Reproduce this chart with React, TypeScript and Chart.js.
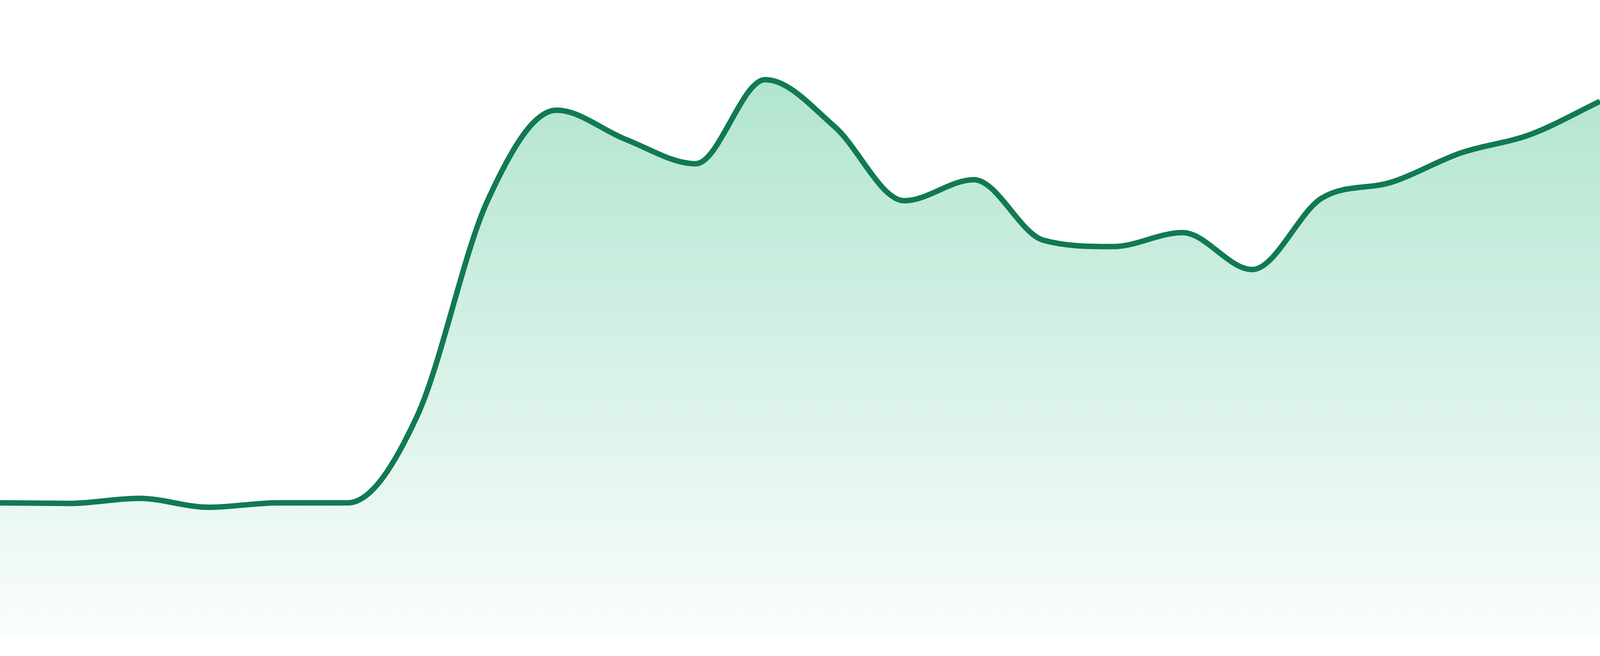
import { useEffect, useRef } from 'react';
import { Chart, registerables } from 'chart.js';

Chart.register(...registerables);

// 24 evenly spaced samples, left edge to right edge
const labels = Array.from({ length: 24 }, (_, i) => `P${i + 1}`);

const values = [
  21.1, 21.0, 21.8, 20.4, 21.1, 21.1, 34.8, 68.3,
  82.7, 78.1, 74.3, 87.5, 80.1, 68.5, 71.8, 62.3,
  61.3, 63.5, 57.7, 68.9, 71.4, 76.0, 78.9, 84.1,
];

const yMin = 0;
const yMax = 100;

const lineColor = '#117a52';

// sizes given for a 1680px tall canvas, scaled to the real height
const REF_H = 1680;

export default function App() {
  const chartRef = useRef<HTMLCanvasElement>(null);
  const chartInstance = useRef<Chart | null>(null);

  useEffect(() => {
    if (!chartRef.current) return;

    if (chartInstance.current) {
      chartInstance.current.destroy();
    }

    const ctx = chartRef.current.getContext('2d');
    if (!ctx) return;

    chartInstance.current = new Chart(ctx, {
      type: 'line',
      data: {
        labels,
        datasets: [{
          data: values,
          borderColor: lineColor,
          borderWidth: (c: any) => (c.chart.height * 14) / REF_H,
          pointRadius: 0,
          cubicInterpolationMode: 'monotone',
          fill: 'start',
          backgroundColor: (context: any) => {
            const { chart } = context;
            const area = chart.chartArea;
            if (!area) return 'rgba(17, 174, 109, 0.2)';
            const g = chart.ctx.createLinearGradient(0, area.top, 0, area.bottom);
            g.addColorStop(0, 'rgba(17, 174, 109, 0.37)');
            g.addColorStop(1, 'rgba(17, 174, 109, 0.02)');
            return g;
          },
        }],
      },
      options: {
        responsive: true,
        maintainAspectRatio: false,
        animation: false,
        layout: {
          padding: (c: any) => ({ top: 0, left: 0, right: 0, bottom: (c.chart.height * 48) / REF_H }),
        },
        plugins: {
          legend: { display: false },
          tooltip: { enabled: false },
        },
        scales: {
          x: { display: false },
          y: { display: false, min: yMin, max: yMax },
        },
      },
    });

    return () => {
      if (chartInstance.current) {
        chartInstance.current.destroy();
        chartInstance.current = null;
      }
    };
  }, []);

  return (
    <div style={{ position: 'fixed', left: 0, top: 0, width: '100vw', height: '100vh', background: '#fff' }}>
      <canvas ref={chartRef} />
    </div>
  );
}
